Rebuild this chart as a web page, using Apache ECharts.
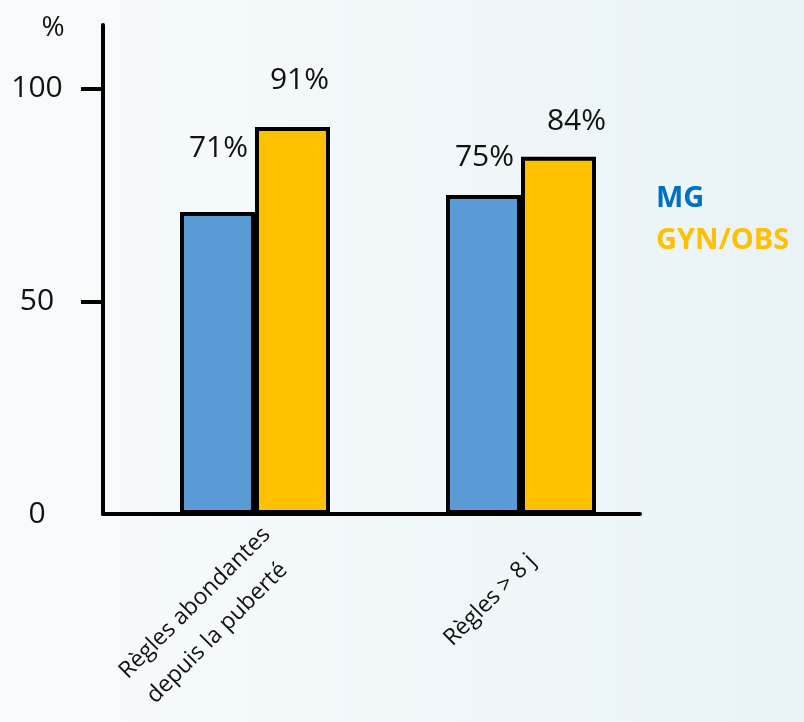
<!DOCTYPE html>
<html lang="fr">
<head>
<meta charset="utf-8">
<title>Règles abondantes : MG vs GYN/OBS</title>
<script src="https://cdn.jsdelivr.net/npm/echarts@6/dist/echarts.min.js"></script>
<style>
  html, body { margin: 0; padding: 0; background: #f2f8fa; }
  #chart { width: 804px; height: 722px; }
</style>
</head>
<body>
<div id="chart"></div>
<script>
// Catégories, séries et graduations
const categories = ['Règles abondantes\ndepuis la puberté', 'Règles > 8 j'];
const seriesNames = ['MG', 'GYN/OBS'];
const mgValues = [71, 75];
const gynObsValues = [91, 84];
const yTickValues = [0, 50, 100];
const yTickMarks = [50, 100];

// Décalages des étiquettes (style, en pixels)
const labelShiftMG = [[1, -44], [1, -18]];
const labelShiftGyn = [[7, -27], [18, -15]];
const categoryLabelPad = [[0, -35, 0, 0], [0, -16, 0, 0]];

const FONT = '"Open Sans", "DejaVu Sans", sans-serif';
const BLUE = '#5B9BD5';
const GOLD = '#FFC000';

function withLabels(values, shifts) {
  return values.map((v, i) => ({
    value: v,
    label: { offset: shifts[i] }
  }));
}

const categoryItems = categories.map((c, i) => ({
  value: c,
  textStyle: { padding: categoryLabelPad[i] }
}));

// Libellés sur plusieurs lignes : lignes centrées entre elles
function categoryFormatter(value) {
  const lines = value.split('\n');
  if (lines.length === 1) return '{a|' + lines[0] + '}';
  return lines.map((l, i) => (i === lines.length - 1 ? '{b|' : '{a|') + l + '}').join('\n');
}

const catText = { fontFamily: FONT, fontSize: 23, lineHeight: 37, color: '#111' };

const chart = echarts.init(document.getElementById('chart'), null, { renderer: 'canvas' });

const gridTop = 25, gridBottom = 208;

const option = {
  backgroundColor: {
    type: 'linear', x: 0, y: 0, x2: 1, y2: 0,
    colorStops: [
      { offset: 0, color: '#f8fbfc' },
      { offset: 1, color: '#e9f3f7' }
    ]
  },
  textStyle: { fontFamily: FONT },
  animation: false,
  legend: {
    data: [
      { name: 'MG', textStyle: { color: '#0070C0' } },
      { name: 'GYN/OBS', textStyle: { color: GOLD } }
    ],
    orient: 'vertical',
    left: 646,
    top: 179,
    icon: 'none',
    itemWidth: 0,
    itemHeight: 29,
    itemGap: 13,
    selectedMode: false,
    textStyle: { fontFamily: FONT, fontSize: 29, fontWeight: 'bold' }
  },
  grid: [
    // axes en trait noir
    { left: 103, right: 164, top: gridTop, bottom: gridBottom, outerBoundsMode: 'none' },
    // barres
    { left: 122, right: 150, top: gridTop, bottom: gridBottom, outerBoundsMode: 'none' }
  ],
  xAxis: [
    {
      gridIndex: 0,
      type: 'category',
      data: categories,
      axisLine: { show: true, lineStyle: { color: '#000', width: 4 } },
      axisTick: { show: false },
      axisLabel: { show: false },
      splitLine: { show: false }
    },
    {
      gridIndex: 1,
      type: 'category',
      data: categoryItems,
      axisLine: { show: false },
      axisTick: { show: false },
      splitLine: { show: false },
      axisLabel: {
        rotate: 45,
        margin: 55,
        formatter: categoryFormatter,
        fontFamily: FONT,
        fontSize: 23,
        lineHeight: 37,
        color: '#111',
        rich: {
          a: catText,
          b: Object.assign({}, catText, { padding: [0, 13, 0, 0] })
        }
      }
    }
  ],
  yAxis: [
    {
      gridIndex: 0,
      type: 'value',
      min: 0,
      max: 115,
      interval: 50,
      name: '%',
      nameLocation: 'end',
      nameGap: -3,
      nameTextStyle: {
        fontFamily: FONT, fontSize: 28, color: '#111',
        verticalAlign: 'middle', align: 'center',
        padding: [0, 100, 0, 0]
      },
      axisLine: { show: true, lineStyle: { color: '#000', width: 4 } },
      axisTick: {
        show: true, length: 22,
        lineStyle: { color: '#000', width: 4 },
        customValues: yTickMarks
      },
      axisLabel: {
        customValues: yTickValues,
        align: 'center',
        margin: 66,
        fontFamily: FONT,
        fontSize: 30,
        color: '#111'
      },
      splitLine: { show: false }
    },
    {
      gridIndex: 1,
      type: 'value',
      min: 0,
      max: 115,
      interval: 50,
      show: false,
      splitLine: { show: false }
    }
  ],
  series: [
    {
      name: seriesNames[0],
      type: 'bar',
      xAxisIndex: 1,
      yAxisIndex: 1,
      barWidth: 75,
      barGap: '0%',
      data: withLabels(mgValues, labelShiftMG),
      itemStyle: { color: BLUE, borderColor: '#000', borderWidth: 4 },
      label: {
        show: true, position: 'top', distance: 5,
        formatter: '{c}%', fontFamily: FONT, fontSize: 30, color: '#111'
      }
    },
    {
      name: seriesNames[1],
      type: 'bar',
      xAxisIndex: 1,
      yAxisIndex: 1,
      barWidth: 75,
      barGap: '0%',
      data: withLabels(gynObsValues, labelShiftGyn),
      itemStyle: { color: GOLD, borderColor: '#000', borderWidth: 4 },
      label: {
        show: true, position: 'top', distance: 5,
        formatter: '{c}%', fontFamily: FONT, fontSize: 30, color: '#111'
      }
    }
  ]
};

chart.setOption(option);
</script>
</body>
</html>
